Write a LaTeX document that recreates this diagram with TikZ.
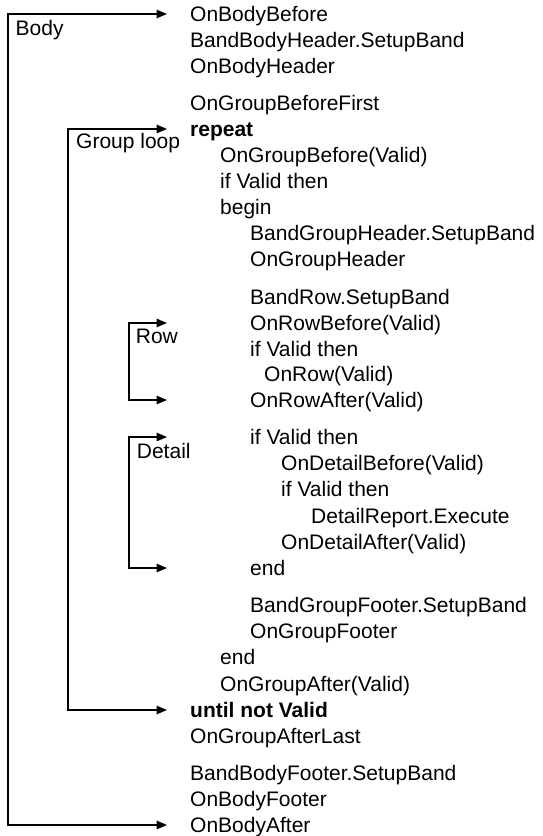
\documentclass[tikz,border=0pt]{standalone}
\usepackage{fontspec}
\setmainfont{Liberation Sans}
\usetikzlibrary{arrows.meta}

\tikzset{
  ln/.style={font=\fontsize{21}{25}\selectfont, inner sep=0pt, text height=15pt, text depth=0pt, anchor=west},
  lbl/.style={font=\fontsize{21}{25}\selectfont, inner sep=0pt, anchor=base west},
  loopline/.style={line width=1.4pt, {Triangle[length=10.5pt,width=8.5pt]}-{Triangle[length=10.5pt,width=8.5pt]}}
}

\begin{document}
\begin{tikzpicture}[x=1pt, y=1pt]
\useasboundingbox (0,0) rectangle (542,-836);
% code lines
\node[ln] (l1) at (190,-14) {OnBodyBefore};
\node[ln] (l2) at (190,-40) {BandBodyHeader.SetupBand};
\node[ln] (l3) at (190,-66) {OnBodyHeader};
\node[ln] (l4) at (190,-103) {OnGroupBeforeFirst};
\node[ln] (l5) at (190,-129) {\bfseries repeat};
\node[ln] (l6) at (220,-155) {OnGroupBefore(Valid)};
\node[ln] (l7) at (220,-181) {if Valid then};
\node[ln] (l8) at (220,-207) {begin};
\node[ln] (l9) at (250,-233) {BandGroupHeader.SetupBand};
\node[ln] (l10) at (250,-259) {OnGroupHeader};
\node[ln] (l11) at (250,-297) {BandRow.SetupBand};
\node[ln] (l12) at (250,-323) {OnRowBefore(Valid)};
\node[ln] (l13) at (250,-348.5) {if Valid then};
\node[ln] (l14) at (264,-374) {OnRow(Valid)};
\node[ln] (l15) at (250,-400) {OnRowAfter(Valid)};
\node[ln] (l16) at (250,-437) {if Valid then};
\node[ln] (l17) at (281,-463) {OnDetailBefore(Valid)};
\node[ln] (l18) at (281,-489) {if Valid then};
\node[ln] (l19) at (311,-515.5) {DetailReport.Execute};
\node[ln] (l20) at (281,-541.5) {OnDetailAfter(Valid)};
\node[ln] (l21) at (250,-568) {end};
\node[ln] (l22) at (250,-605) {BandGroupFooter.SetupBand};
\node[ln] (l23) at (250,-631) {OnGroupFooter};
\node[ln] (l24) at (220,-657) {end};
\node[ln] (l25) at (220,-683.5) {OnGroupAfter(Valid)};
\node[ln] (l26) at (190,-710) {\bfseries until not Valid};
\node[ln] (l27) at (190,-736) {OnGroupAfterLast};
\node[ln] (l28) at (190,-773) {BandBodyFooter.SetupBand};
\node[ln] (l29) at (190,-799) {OnBodyFooter};
\node[ln] (l30) at (190,-825) {OnBodyAfter};

% bracket columns and arrow tips
\coordinate (tipx) at (167,0);
\coordinate (bodyx) at (8,0);
\coordinate (groupx) at (68,0);
\coordinate (rowx) at (129,0);

% loops
\draw[loopline] (tipx |- l1.west) -- (bodyx |- l1.west) -- (bodyx |- l30.west) -- (tipx |- l30.west);
\draw[loopline] (tipx |- l5.west) -- (groupx |- l5.west) -- (groupx |- l26.west) -- (tipx |- l26.west);
\draw[loopline] (tipx |- l12.west) -- (rowx |- l12.west) -- (rowx |- l15.west) -- (tipx |- l15.west);
\draw[loopline] (tipx |- l16.west) -- (rowx |- l16.west) -- (rowx |- l21.west) -- (tipx |- l21.west);

% loop names
\coordinate (bodytop) at (bodyx |- l1.west);
\coordinate (grouptop) at (groupx |- l5.west);
\coordinate (rowtop) at (rowx |- l12.west);
\coordinate (detailtop) at (rowx |- l16.west);
\node[lbl] (bodylbl) at ([shift={(7.5,-21)}]bodytop) {Body};
\node[lbl] (grouplbl) at ([shift={(8,-19)}]grouptop) {Group loop};
\node[lbl] (rowlbl) at ([shift={(6.7,-20)}]rowtop) {Row};
\node[lbl] (detaillbl) at ([shift={(7.7,-21)}]detailtop) {Detail};
\end{tikzpicture}
\end{document}
